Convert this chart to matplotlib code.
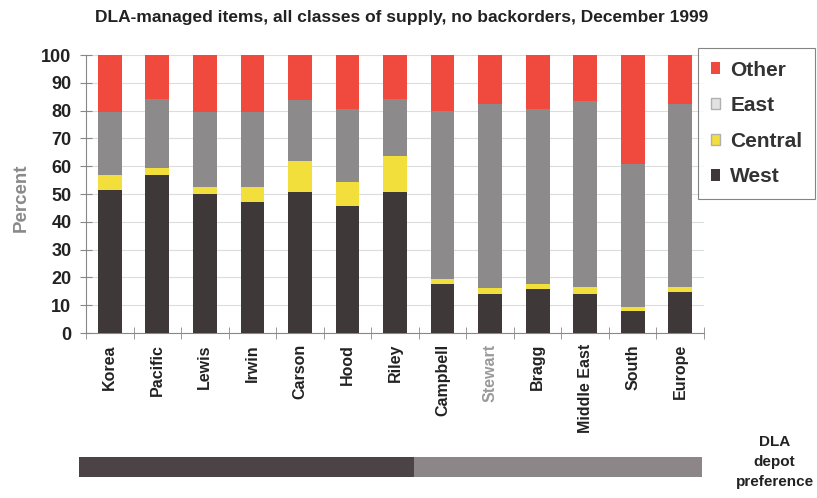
import matplotlib
matplotlib.use("Agg")
import matplotlib.pyplot as plt
import numpy as np
from matplotlib.patches import Patch

plt.rcParams['font.family'] = ['Liberation Sans', 'DejaVu Sans']
plt.rcParams['font.weight'] = 'bold'

# Data (percent of items by depot)
sites = ["Korea", "Pacific", "Lewis", "Irwin", "Carson", "Hood", "Riley",
         "Campbell", "Stewart", "Bragg", "Middle East", "South", "Europe"]
west = [51.5, 56.8, 50.0, 47.2, 50.7, 45.7, 50.7, 17.5, 14.0, 16.0, 14.0, 7.8, 14.8]
central = [5.3, 2.4, 2.6, 5.4, 11.3, 8.5, 13.0, 1.8, 2.3, 1.6, 2.5, 1.6, 1.8]
east = [22.8, 24.8, 27.0, 27.0, 21.8, 26.2, 20.3, 60.5, 66.2, 62.8, 66.8, 51.5, 65.6]
other = [20.4, 16.0, 20.4, 20.4, 16.2, 19.6, 16.0, 20.2, 17.5, 19.6, 16.7, 39.1, 17.8]

# depot preference band below the chart
pref_labels = ["West", "East"]
pref_counts = [7, 6]

c_west = "#3e3839"
c_central = "#f3df3b"
c_east = "#8c8a8b"
c_other = "#ef4a3d"

fig = plt.figure(figsize=(8.17, 4.98), dpi=100)
ax = fig.add_axes([86 / 817, 1 - 333 / 498, (704 - 86) / 817, (333 - 55) / 498])

x = np.arange(len(sites))
w = 0.5
b1 = np.array(west)
b2 = b1 + np.array(central)
b3 = b2 + np.array(east)
ax.bar(x, west, w, color=c_west, zorder=3)
ax.bar(x, central, w, bottom=b1, color=c_central, zorder=3)
ax.bar(x, east, w, bottom=b2, color=c_east, zorder=3)
ax.bar(x, other, w, bottom=b3, color=c_other, zorder=3)

ax.set_xlim(-0.5, len(sites) - 0.5)
ax.set_ylim(0, 100)
ax.set_yticks(np.arange(0, 101, 10))
ax.yaxis.grid(True, color="#dcdcdc", lw=0.8, zorder=0)
for s in ["top", "right"]:
    ax.spines[s].set_visible(False)
ax.spines["left"].set_color("#888888")
ax.spines["bottom"].set_color("#888888")

ax.set_xticks(x)
ax.set_xticklabels(sites, rotation=90, fontsize=11.5, fontweight="bold", color="#222222")
ax.get_xticklabels()[8].set_color("#9a9a9a")
ax.set_xticks(np.arange(-0.5, len(sites), 1.0), minor=True)
ax.tick_params(axis="x", which="major", length=0, pad=8)
ax.tick_params(axis="x", which="minor", direction="inout", length=9, color="#888888")
ax.tick_params(axis="y", direction="inout", length=9, color="#888888", labelsize=13,
               labelcolor="#222222", pad=6)

fig.text(0.026, 0.602, "Percent", rotation=90, fontsize=13.5, color="#8a8a8a",
         ha="center", va="center", fontweight="bold")
fig.text(0.491, 0.964, "DLA-managed items, all classes of supply, no backorders, December 1999",
         fontsize=12.5, ha="center", va="center", color="#222222", fontweight="bold")

handles = [Patch(facecolor=c_other, edgecolor="none", label="Other"),
           Patch(facecolor="#e2e2e2", edgecolor="#b0b0b0", label="East"),
           Patch(facecolor=c_central, edgecolor="#b0b0b0", label="Central"),
           Patch(facecolor=c_west, edgecolor="none", label="West")]
leg = fig.legend(handles=handles, loc="upper left", bbox_to_anchor=(698 / 817, 1 - 48 / 498),
                 frameon=True, fancybox=False, fontsize=15, handlelength=0.45,
                 handleheight=0.45, handletextpad=0.5, labelspacing=0.8,
                 borderpad=0.6, borderaxespad=0, edgecolor="#666666")
leg.get_frame().set_linewidth(0.8)
for t in leg.get_texts():
    t.set_color("#333333")

# preference band
bax = fig.add_axes([79 / 817, 1 - 477 / 498, (702 - 79) / 817, 20 / 498])
starts = np.cumsum([0] + pref_counts[:-1])
bax.barh([0] * len(pref_counts), pref_counts, left=starts, height=1,
         color=["#4b4345", "#8d8688"])
bax.set_xlim(0, sum(pref_counts))
bax.set_ylim(-0.5, 0.5)
bax.axis("off")

fig.text(0.948, 0.072, "DLA\ndepot\npreference", fontsize=11, ha="center", va="center",
         color="#222222", fontweight="bold", linespacing=1.55)

fig.savefig("out.png", dpi=100)
